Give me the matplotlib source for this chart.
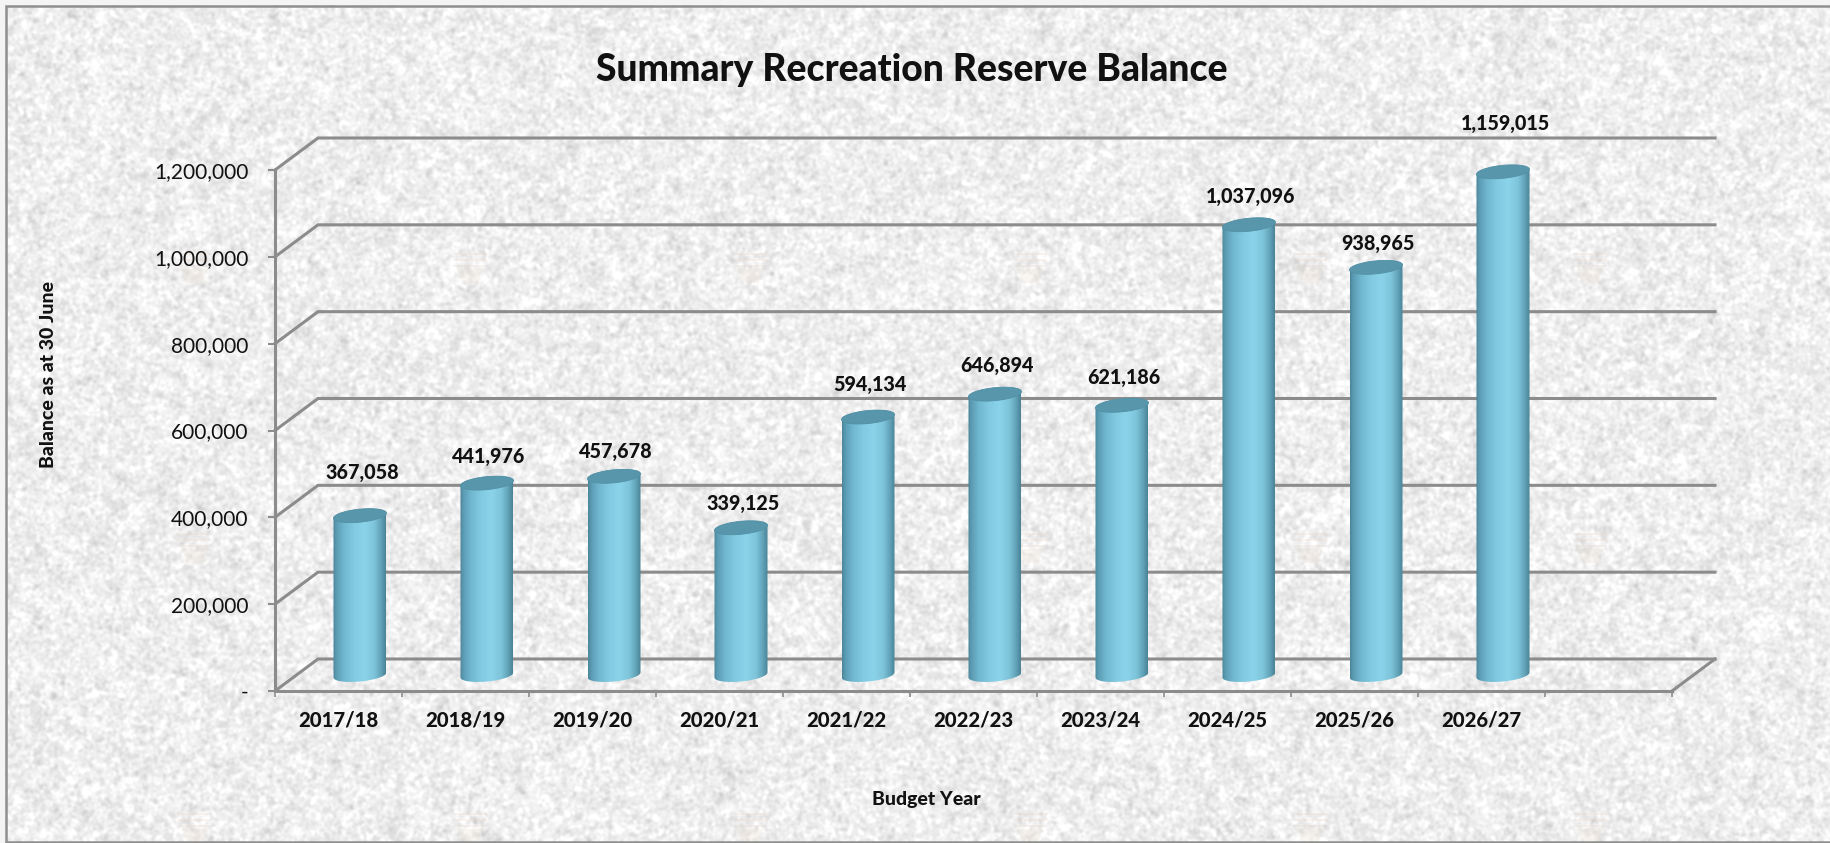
# recreation reserve balance by budget year, drawn as a 3d style cylinder column chart

import numpy as np
import matplotlib
matplotlib.use("Agg")
import matplotlib.pyplot as plt
from matplotlib.colors import LinearSegmentedColormap
from matplotlib.patches import Polygon, Rectangle

years = ['2017/18', '2018/19', '2019/20', '2020/21', '2021/22',
         '2022/23', '2023/24', '2024/25', '2025/26', '2026/27']
balances = [367058, 441976, 457678, 339125, 594134,
            646894, 621186, 1037096, 938965, 1159015]
y_ticks = [0, 200000, 400000, 600000, 800000, 1000000, 1200000]
y_tick_labels = ['-', '200,000', '400,000', '600,000', '800,000', '1,000,000', '1,200,000']

W, H = 1831, 843
plt.rcParams['font.family'] = ['Lato', 'DejaVu Sans']

fig = plt.figure(figsize=(W/100, H/100), dpi=100)

# paper texture for the background

rng = np.random.default_rng(7)
noise = rng.normal(size=(H, W))
fy = np.fft.fftfreq(H)[:, None]
fx = np.fft.fftfreq(W)[None, :]
fine = np.exp(-(fx**2 + fy**2) * 2 * (np.pi * 1.4)**2)
blotch = np.exp(-(fx**2 + fy**2) * 2 * (np.pi * 4.0)**2)
tex_fine = np.fft.ifft2(np.fft.fft2(noise) * fine).real
tex_blotch = np.fft.ifft2(np.fft.fft2(noise) * blotch).real
tex = tex_fine / tex_fine.std() + 0.25 * tex_blotch / tex_blotch.std()
grey = np.clip(238 + 7 * tex, 190, 255) / 255

bg = fig.add_axes([0, 0, 1, 1], zorder=0)
bg.imshow(grey, cmap='gray', vmin=0, vmax=1, extent=[0, W, H, 0], aspect='auto', interpolation='bilinear')
bg.set_xlim(0, W)
bg.set_ylim(H, 0)
bg.axis('off')

# faint tan stamps repeated over the sheet

for sx in [195, 470, 750, 1030, 1310, 1590]:
    for sy in [265, 545, 825]:
        for off in [-12, -6, 0]:
            bg.add_patch(Rectangle((sx - 17, sy + off), 34, 2, color='#e8d9c8', alpha=0.3, lw=0))
        bg.add_patch(Polygon([(sx - 13, sy + 4), (sx + 13, sy + 4), (sx + 8, sy + 18), (sx - 8, sy + 18)],
                             color='#efe3d6', alpha=0.35, lw=0))

# outer frame, open on the right

bg.plot([W, 6.5, 6.5, W], [5.5, 5.5, 841.5, 841.5], color='#8f8f8f', lw=1.8, solid_joinstyle='miter')
bg.add_patch(Rectangle((0, 0), 5.5, H, color='#f4f4f4', lw=0))
bg.add_patch(Rectangle((0, 0), W, 4.5, color='#f4f4f4', lw=0))

# main axes sit on the front plane of the chart

ax = fig.add_axes([275/W, (H - 691)/H, 1397/W, 521/H], zorder=1)
ax.patch.set_alpha(0)

x_px = 1 / 127.0
y_px = 1200000 / 521.0
depth_x = 43 * x_px
depth_y = 32 * y_px
grid_col = '#8c8c8c'

# back wall lines plus the slanted floor and wall edges

for v in y_ticks:
    ax.plot([0, depth_x, 11 + depth_x], [v, v + depth_y, v + depth_y],
            color=grid_col, lw=2.2, clip_on=False, zorder=1, solid_joinstyle='miter')
ax.plot([11, 11 + depth_x], [0, depth_y], color=grid_col, lw=2.2, clip_on=False, zorder=1)

# cylinders

cyl_cmap = LinearSegmentedColormap.from_list('cyl', [
    (0.0, '#4b8499'), (0.06, '#5a9bb2'), (0.2, '#6fb6ce'), (0.4, '#82cae1'),
    (0.6, '#8ad3e9'), (0.78, '#7ec4da'), (0.9, '#63a5ba'), (1.0, '#4a8296')])
gradient = np.linspace(0, 1, 256)[None, :]

half_w = 26.5 * x_px
half_h = 6.5 * y_px
tilt = 2.5 * y_px


def ellipse_points(cx, cy, t):
    return cx + half_w * np.cos(t), cy + half_h * np.sin(t) + tilt * np.cos(t)


for i, value in enumerate(balances):

    cx = i + 0.5 + depth_x / 2
    base = depth_y / 2
    top = base + value

    xb, yb = ellipse_points(cx, base, np.linspace(np.pi, 2 * np.pi, 60))
    xt, yt = ellipse_points(cx, top, np.linspace(0, np.pi, 60))
    outline = np.column_stack([np.r_[xb, xt], np.r_[yb, yt]])

    body = Polygon(outline, closed=True, transform=ax.transData, fc='none', ec='none')
    ax.add_patch(body)
    im = ax.imshow(gradient, cmap=cyl_cmap, vmin=0, vmax=1, aspect='auto', zorder=3,
                   extent=[cx - half_w, cx + half_w, -half_h - tilt + base, top + half_h + tilt])
    im.set_clip_path(body)
    im.set_clip_on(True)

    # lid of the cylinder

    xl, yl = ellipse_points(cx, top, np.linspace(0, 2 * np.pi, 90))
    ax.add_patch(Polygon(np.column_stack([xl, yl]), closed=True, fc='#5896ac', ec='#5390a6',
                         lw=0.6, zorder=4, clip_on=False))

# value labels, lifted by hand above each column

label_lift = [43, 27, 25, 24, 33, 29, 28, 28, 24, 48]

for i, value in enumerate(balances):
    ax.annotate(f"{value:,}", xy=(i + 0.5 + depth_x / 2, depth_y / 2 + value),
                xytext=(2 * 0.72, label_lift[i] * 0.72), textcoords='offset points',
                ha='center', va='center', fontsize=14.2, fontweight=900, color='#111111',
                annotation_clip=False, zorder=6)

ax.set_xlim(0, 11)
ax.set_ylim(0, 1200000)

ax.set_xticks(range(12))
ax.set_xticklabels([])
ax.set_xticks([i + 0.5 for i in range(len(years))], labels=years, minor=True)
ax.tick_params(axis='x', which='major', length=4.5, width=1.2, color=grid_col)
ax.tick_params(axis='x', which='minor', length=0, pad=14, labelsize=14.6, labelcolor='#111111')
for lab in ax.get_xticklabels(minor=True):
    lab.set_fontweight(900)

ax.set_yticks(y_ticks, labels=y_tick_labels)
ax.tick_params(axis='y', length=5, width=1.5, color=grid_col, pad=14, labelsize=15, labelcolor='#111111')

ax.spines['top'].set_visible(False)
ax.spines['right'].set_visible(False)
for side in ['left', 'bottom']:
    ax.spines[side].set_color(grid_col)
    ax.spines[side].set_linewidth(2.2)
    ax.spines[side].set_zorder(2)

fig.text(912/W, 1 - 70/H, "Summary Recreation Reserve Balance", ha='center', va='center',
         fontsize=26.8, fontweight=900, color='#111111', zorder=5)
fig.text(926/W, 1 - 799/H, "Budget Year", ha='center', va='center',
         fontsize=14, fontweight=900, color='#111111', zorder=5)
fig.text(49/W, 1 - 375/H, "Balance as at 30 June", rotation=90, ha='center', va='center',
         fontsize=14, fontweight=900, color='#111111', zorder=5)

plt.savefig("out.png", dpi=100)
